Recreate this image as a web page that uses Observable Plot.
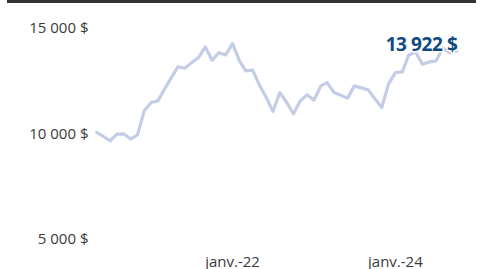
<!DOCTYPE html>
<html>
<head>
<meta charset="utf-8">
<script src="https://cdn.jsdelivr.net/npm/d3@7"></script>
<script src="https://cdn.jsdelivr.net/npm/@observablehq/plot@0.6"></script>
<style>
  html, body { margin: 0; padding: 0; background: #fff; }
  #bar { margin-left: 7px; width: 469px; height: 3px; background: #333; }
  #chart svg { display: block; }
  .endlabel text { letter-spacing: -0.4px; }
</style>
</head>
<body>
<div id="bar"></div>
<div id="chart"></div>
<script>
// Monthly portfolio value, May 2020 – Oct 2024
const firstMonth = "2020-05-01";
const values = [
  10062, 9870, 9668, 9986, 9990, 9749, 9953, 11090, 11483, 11564,
  12109, 12654, 13175, 13114, 13379, 13616, 14123, 13493, 13853, 13744,
  14280, 13460, 12986, 13019, 12322, 11720, 11057, 11957, 11483, 10948,
  11564, 11848, 11597, 12275, 12431, 11957, 11825, 11692, 12275, 12180,
  12085, 11659, 11246, 12355, 12905, 12938, 13744, 13886, 13303, 13412,
  13460, 14076, 13839, 13922
];
const yTicks = [5000, 10000, 15000];
const xTickLabels = ["2022-01-01", "2024-01-01"];
const finalLabel = "13 922 $";

const start = new Date(firstMonth);
const months = values.map((_, i) => d3.utcMonth.offset(start, i));
const data = months.map((date, i) => ({date, value: values[i]}));
const last = data[data.length - 1];

const numLocale = d3.formatLocale({decimal: ",", thousands: "\u00a0", grouping: [3], currency: ["", "\u00a0$"]});
const fmtMoney = numLocale.format("$,.0f");
const timeLocale = d3.timeFormatLocale({
  dateTime: "%A %e %B %Y à %X", date: "%d/%m/%Y", time: "%H:%M:%S", periods: ["AM", "PM"],
  days: ["dimanche","lundi","mardi","mercredi","jeudi","vendredi","samedi"],
  shortDays: ["dim.","lun.","mar.","mer.","jeu.","ven.","sam."],
  months: ["janvier","février","mars","avril","mai","juin","juillet","août","septembre","octobre","novembre","décembre"],
  shortMonths: ["janv.","févr.","mars","avr.","mai","juin","juil.","août","sept.","oct.","nov.","déc."]
});
const fmtDate = timeLocale.utcFormat("%b-%y");

const chart = Plot.plot({
  width: 478,
  height: 266,
  marginLeft: 96,
  marginRight: 22,
  marginTop: 25,
  marginBottom: 30.5,
  style: {fontFamily: "'Open Sans', sans-serif", fontSize: "15px", color: "#3a3a3a", background: "#fff"},
  x: {type: "utc", domain: [months[0], months[months.length - 1]], ticks: xTickLabels.map(d => new Date(d)),
      tickFormat: fmtDate, tickSize: 0, tickPadding: 17, label: null},
  y: {domain: [5000, 15000], ticks: yTicks, tickFormat: fmtMoney, tickSize: 0, tickPadding: 8, label: null},
  marks: [
    Plot.line(data, {x: "date", y: "value", stroke: "#c5cde6", strokeWidth: 3.2, curve: "linear"}),
    Plot.text([last], {x: "date", y: "value", text: () => finalLabel, textAnchor: "end", lineAnchor: "middle",
      dy: -6, dx: 1, fill: "#0f4a80", stroke: "white", strokeWidth: 3, fontWeight: "bold", fontSize: 19,
      className: "endlabel", fontFamily: "'Open Sans', sans-serif"})
  ]
});
document.getElementById("chart").appendChild(chart);
</script>
</body>
</html>
